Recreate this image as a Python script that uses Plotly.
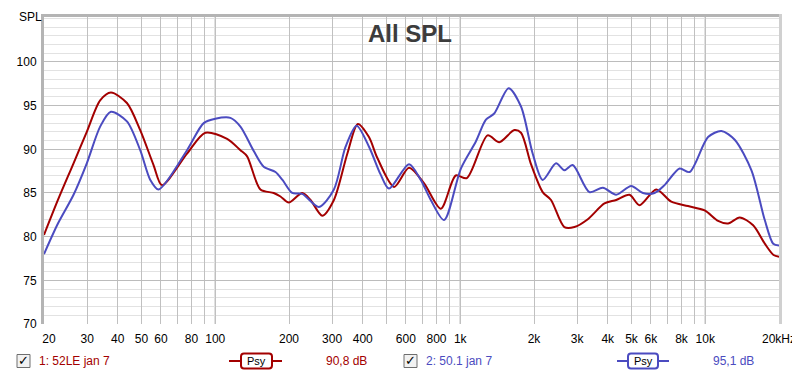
import math
import plotly.graph_objects as go

# ---- data ----
red_name = "1: 52LE jan 7"
red_level = "90,8 dB"
red_freq = [20, 22.8, 26.4, 29.9, 33.9, 37.5, 43.6, 49.4, 56.0, 60.6,
            76.7, 91.1, 111.8, 126.7, 134.9, 152.9, 173.3, 184.6, 199.6, 226.5,
            244.9, 273.4, 305, 346, 382, 424, 459, 537, 618, 712,
            833, 959, 1064, 1293, 1443, 1661, 1770, 1944, 2170, 2347,
            2660, 2924, 3317, 3878, 4330, 4906, 5392, 6310, 7268, 8504,
            9944, 11282, 12394, 13826, 15688, 17496, 19000, 20000]
red_db = [80.2, 84.2, 88.4, 92.0, 95.6, 96.5, 95.3, 92.2, 88.2, 85.9,
          89.5, 91.9, 91.2, 89.9, 89.2, 85.4, 85.0, 84.6, 83.9, 85.0,
          84.2, 82.4, 84.2, 89.5, 92.9, 91.4, 89.0, 85.7, 87.9, 86.1,
          83.2, 87.0, 86.7, 91.6, 90.8, 92.2, 91.9, 88.3, 85.1, 84.2,
          81.1, 81.1, 82.0, 83.8, 84.2, 84.8, 83.6, 85.4, 84.0, 83.5,
          83.0, 81.8, 81.5, 82.2, 81.3, 79.2, 77.9, 77.7]

blue_name = "2: 50.1 jan 7"
blue_level = "95,1 dB"
blue_freq = [20, 22.8, 26.4, 29.9, 33.9, 37.5, 43.6, 49.4, 54.3, 58.7,
             76.7, 89.7, 100, 115.3, 126.7, 143.6, 157.7, 176.1, 188.1, 206.2,
             226.5, 264.8, 305, 340.4, 377.6, 424.2, 473.4, 512, 618, 690,
             758, 859, 1006, 1158, 1273, 1376, 1576, 1770, 1976, 2170,
             2460, 2660, 2878, 3368, 3820, 4330, 4986, 5568, 6210, 6824,
             7858, 8634, 10268, 11640, 13190, 15438, 17496, 18940, 20000]
blue_db = [78.0, 81.5, 84.8, 88.4, 92.6, 94.3, 93.2, 89.9, 86.5, 85.4,
           89.9, 93.0, 93.5, 93.6, 92.6, 89.8, 88.0, 87.4, 86.5, 85.0,
           84.9, 83.4, 85.4, 90.3, 92.7, 90.3, 87.1, 85.5, 88.3, 86.5,
           84.2, 81.9, 87.8, 90.9, 93.4, 94.1, 97.0, 94.9, 89.5, 86.5,
           88.4, 87.6, 88.2, 85.1, 85.6, 84.8, 85.8, 85.0, 85.0, 85.9,
           87.8, 87.4, 91.4, 92.1, 91.1, 87.6, 81.9, 79.2, 79.0]

x_grid = [20, 30, 40, 50, 60, 70, 80, 90, 100, 200, 300, 400, 500, 600, 700, 800, 900,
          1000, 2000, 3000, 4000, 5000, 6000, 7000, 8000, 9000, 10000, 20000]
x_text = ["\u00a0\u00a0\u00a020", "30", "40", "50", "60", "", "80", "", "100", "200", "300", "400", "", "600", "", "800", "",
          "1k", "2k", "3k", "4k", "5k", "6k", "", "8k", "", "10k", "20kHz"]
decades = [100, 1000, 10000]
y_ticks = [70, 75, 80, 85, 90, 95, 100]

RED = "#a30000"
BLUE = "#4b4bc0"
FONT = "Liberation Sans, Arial, sans-serif"

# ---- layout geometry (page pixels); page body has an 8px margin ----
OFF = 8
W, H = 800, 376
L, R, T, B = 44, 779, 17, 324   # plot area in page pixels
Lf, Rf, Tf, Bf = L - OFF, R - OFF, T - OFF, B - OFF


def px(x):
    return (x - OFF - Lf) / (Rf - Lf)


def py(y):
    return (Bf - (y - OFF)) / (Bf - Tf)


def rounded_rect(x0, y0, x1, y1, r):
    # page pixel coords -> paper-coordinate SVG path with rounded corners
    pts = [
        ("M", x0 + r, y0), ("L", x1 - r, y0), ("Q", x1, y0, x1, y0 + r),
        ("L", x1, y1 - r), ("Q", x1, y1, x1 - r, y1), ("L", x0 + r, y1),
        ("Q", x0, y1, x0, y1 - r), ("L", x0, y0 + r), ("Q", x0, y0, x0 + r, y0),
    ]
    out = []
    for p in pts:
        cmd = p[0]
        vals = p[1:]
        coords = []
        for i in range(0, len(vals), 2):
            coords.append(f"{px(vals[i]):.5f},{py(vals[i + 1]):.5f}")
        out.append(cmd + " ".join(coords))
    return " ".join(out) + " Z"


fig = go.Figure()
fig.add_trace(go.Scatter(x=red_freq, y=red_db, mode="lines",
                         line=dict(color=RED, width=2, shape="spline", smoothing=0.8),
                         hoverinfo="skip"))
fig.add_trace(go.Scatter(x=blue_freq, y=blue_db, mode="lines",
                         line=dict(color=BLUE, width=2, shape="spline", smoothing=0.8),
                         hoverinfo="skip"))

shapes = []
for d in decades:
    shapes.append(dict(type="line", xref="x", yref="paper", x0=d, x1=d, y0=0, y1=1,
                       line=dict(color="#808080", width=1), layer="below"))
frame = "#b4b4b4"
shapes.append(dict(type="line", xref="paper", yref="paper", x0=px(42.5), x1=px(42.5),
                   y0=py(B), y1=py(14), line=dict(color=frame, width=3)))
shapes.append(dict(type="line", xref="paper", yref="paper", x0=px(41), x1=px(782),
                   y0=py(15.5), y1=py(15.5), line=dict(color=frame, width=3)))
shapes.append(dict(type="line", xref="paper", yref="paper", x0=px(780.5), x1=px(780.5),
                   y0=py(B), y1=py(14), line=dict(color="#d0d0d0", width=3)))

annotations = [
    dict(text="All SPL", x=px(410), y=py(33.5), xref="paper", yref="paper", showarrow=False,
         font=dict(family=FONT, size=24, color="#3c3c3c", weight="bold"), xanchor="center", yanchor="middle"),
    dict(text="SPL", x=px(17), y=py(8), xref="paper", yref="paper", showarrow=False,
         font=dict(family=FONT, size=12, color="#000000"), xanchor="left", yanchor="top"),
]

legend_rows = [
    dict(cb=17, name=red_name, nx=37, l0=229, l1=282, b0=241, b1=272, level=red_level, lx=346, color=RED),
    dict(cb=404, name=blue_name, nx=424, l0=617, l1=669, b0=628, b1=658, level=blue_level, lx=733, color=BLUE),
]
ly = 361
for row in legend_rows:
    shapes.append(dict(type="rect", xref="paper", yref="paper",
                       x0=px(row["cb"]), x1=px(row["cb"] + 13), y0=py(ly + 6.5), y1=py(ly - 6.5),
                       line=dict(color="#6e6e6e", width=1), fillcolor="#f2f2f2"))
    annotations.append(dict(text="✓", x=px(row["cb"] + 6.8), y=py(ly - 0.5), xref="paper", yref="paper",
                            showarrow=False, font=dict(family="DejaVu Sans", size=13, color="#000000", weight="bold"),
                            xanchor="center", yanchor="middle"))
    annotations.append(dict(text=row["name"], x=px(row["nx"]), y=py(ly), xref="paper", yref="paper",
                            showarrow=False, font=dict(family=FONT, size=12, color=row["color"]),
                            xanchor="left", yanchor="middle"))
    shapes.append(dict(type="line", xref="paper", yref="paper", x0=px(row["l0"]), x1=px(row["l1"]),
                       y0=py(ly), y1=py(ly), line=dict(color=row["color"], width=2)))
    shapes.append(dict(type="path", xref="paper", yref="paper",
                       path=rounded_rect(row["b0"], ly - 7.5, row["b1"], ly + 7.5, 3),
                       line=dict(color=row["color"], width=2), fillcolor="#ffffff"))
    annotations.append(dict(text="Psy", x=px((row["b0"] + row["b1"]) / 2), y=py(ly), xref="paper", yref="paper",
                            showarrow=False, font=dict(family=FONT, size=11, color="#000000"),
                            xanchor="center", yanchor="middle"))
    annotations.append(dict(text=row["level"], x=px(row["lx"]), y=py(ly), xref="paper", yref="paper",
                            showarrow=False, font=dict(family=FONT, size=12, color=row["color"]),
                            xanchor="center", yanchor="middle"))

fig.update_layout(
    width=W, height=H,
    margin=dict(l=Lf, r=W - Rf, t=Tf, b=H - Bf, pad=0),
    paper_bgcolor="#ffffff", plot_bgcolor="#ffffff",
    showlegend=False,
    font=dict(family=FONT, size=12, color="#000000"),
    shapes=shapes, annotations=annotations,
    xaxis=dict(type="log", range=[math.log10(20), math.log10(20000)],
               tickmode="array", tickvals=x_grid, ticktext=x_text,
               showgrid=True, gridcolor="#c0c0c0", gridwidth=1,
               ticks="outside", ticklen=4, tickcolor="rgba(0,0,0,0)",
               showline=False, zeroline=False, fixedrange=True, automargin=False),
    yaxis=dict(range=[70, 105.15], tickmode="array", tickvals=y_ticks,
               showgrid=True, gridcolor="#bcbcbc", gridwidth=1,
               minor=dict(dtick=1, showgrid=True, gridcolor="#e2e2e2", gridwidth=1),
               ticks="outside", ticklen=4, tickcolor="rgba(0,0,0,0)",
               showline=False, zeroline=False, fixedrange=True, automargin=False),
)

fig.write_html("out.html", config={"displayModeBar": False})
